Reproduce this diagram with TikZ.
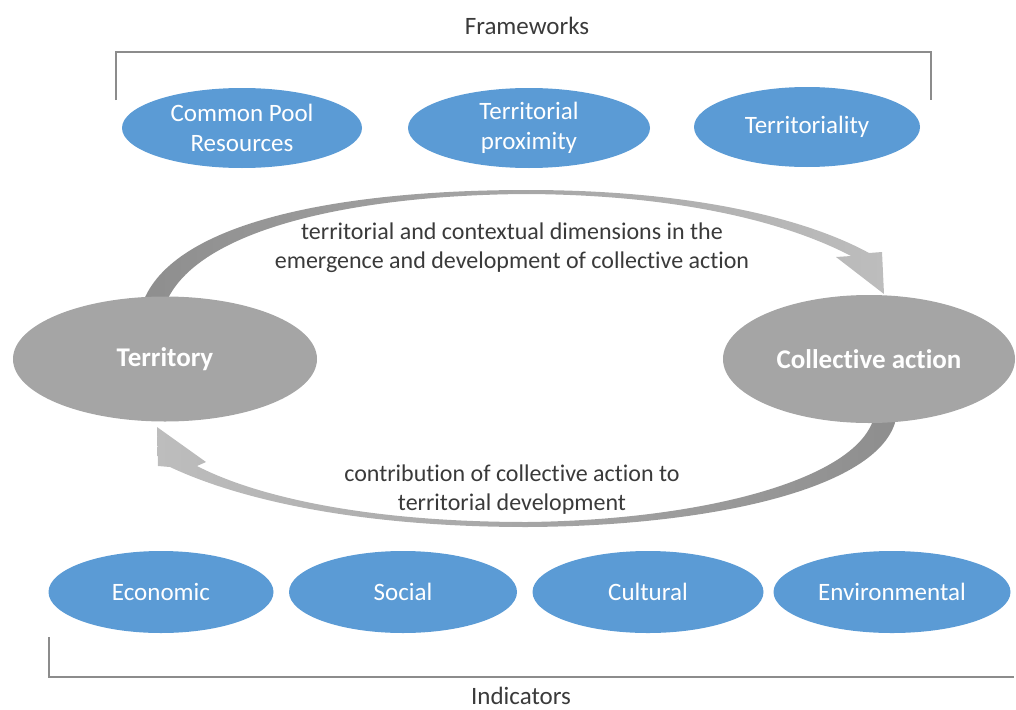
\documentclass[tikz,border=0pt]{standalone}
\usepackage{fontspec}
\setmainfont{Carlito}[Ligatures=NoCommon]
\usetikzlibrary{shapes.geometric}
\definecolor{blueE}{HTML}{5B9BD5}
\definecolor{grayE}{HTML}{A5A5A5}
\definecolor{brkcol}{HTML}{8C8C8C}
\definecolor{txtcol}{HTML}{3A3A3A}
\definecolor{arcD}{HTML}{8E8E8E}
\definecolor{arcL}{HTML}{BDBDBD}
\begin{document}
\begin{tikzpicture}[x=1pt,y=-1pt,
  blueell/.style={ellipse, fill=blueE, text=white, inner sep=0pt, align=center,
    font=\fontsize{25}{30}\selectfont},
  grayell/.style={ellipse, fill=grayE, text=white, inner sep=0pt,
    font=\fontsize{27}{32}\selectfont\bfseries},
  lbl/.style={text=txtcol, align=center, font=\fontsize{24}{29}\selectfont},
  ttl/.style={text=txtcol, font=\fontsize{25}{30}\selectfont, inner sep=0pt},
  brk/.style={draw=brkcol, line width=1.5pt}]
\useasboundingbox (0,0) rectangle (1016,709);

% titles and brackets
\node[ttl, anchor=base] (fw) at (527,35) {Frameworks};
\node[ttl, anchor=base] (ind) at (521,704) {Indicators};
\draw[brk] (116,100) -- (116,52) -- (931,52) -- (931,100);
\draw[brk] (49,637) -- (49,677) -- (1014,677);

% curved arrows (drawn first, under the ellipses)
\shade[left color=arcD, right color=arcL]
  (141,308) .. controls (166,222) and (340,190) .. (527,190)
  .. controls (690,190) and (805,218) .. (869,253)
  -- (882,252) -- (884,294) -- (836,257) -- (851,256)
  .. controls (790,224) and (685,195) .. (527,194)
  .. controls (352,195) and (190,230) .. (164,308) -- cycle;
\shade[left color=arcL, right color=arcD]
  (897,412) .. controls (892,485) and (720,526) .. (527,527)
  .. controls (360,527) and (240,500) .. (170,467)
  -- (158,466) -- (157,427) -- (206,462) -- (197,466)
  .. controls (255,496) and (365,522) .. (527,522)
  .. controls (705,520) and (866,478) .. (875,412) -- cycle;

% top ellipses
\node[blueell, minimum width=240, minimum height=80] (cpr) at (242,128) {Common Pool\\Resources};
\node[blueell, minimum width=242, minimum height=80] (tp) at (529,128) {Territorial\\proximity};
\node[blueell, minimum width=226, minimum height=80] (tl) at (807,127) {Territoriality};

% middle ellipses
\node[grayell, minimum width=304, minimum height=125] (terr) at (165,359) {Territory};
\node[grayell, minimum width=292, minimum height=128] (ca) at (869,359) {Collective action};

% arc labels
\node[lbl] (toplbl) at (512,248) {territorial and contextual dimensions in the\\emergence and development of collective action};
\node[lbl] (botlbl) at (512,490) {contribution of collective action to\\territorial development};

% bottom ellipses
\node[blueell, minimum width=225, minimum height=82] (eco) at (161,592) {Economic};
\node[blueell, minimum width=228, minimum height=82] (soc) at (403,592) {Social};
\node[blueell, minimum width=231, minimum height=82] (cul) at (648,592) {Cultural};
\node[blueell, minimum width=237, minimum height=82] (env) at (892,592) {Environmental};
\end{tikzpicture}
\end{document}
